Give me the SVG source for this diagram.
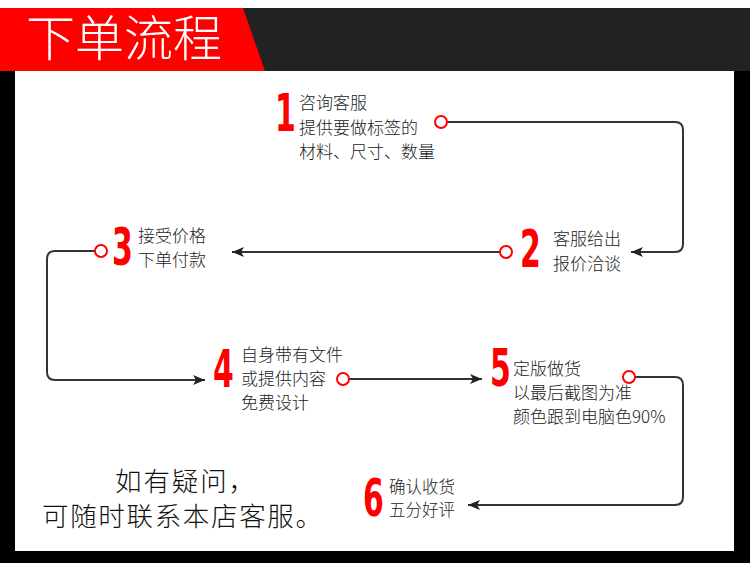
<svg xmlns="http://www.w3.org/2000/svg" width="750" height="563" viewBox="0 0 750 563">
<style>
.t{font-family:"Noto Sans CJK SC","Noto Sans",sans-serif;font-size:17px;font-weight:300;fill:#222}
.n{font-family:"Liberation Sans Narrow","DejaVu Sans Condensed","Liberation Sans",sans-serif;font-weight:bold;font-size:52px;fill:#ff0000}
.c{fill:none;stroke:#333;stroke-width:2}
.dot{fill:#fff;stroke:#ff0000;stroke-width:2}
.big{font-family:"Noto Sans CJK SC","Noto Sans",sans-serif;font-size:26.5px;font-weight:300;fill:#111}
</style>
<defs>
<marker id="arr" markerWidth="14" markerHeight="12" refX="12" refY="6" orient="auto" markerUnits="userSpaceOnUse">
<path d="M0,1 L12,6 L0,11 L3,6 Z" fill="#222"/>
</marker>
</defs>
<rect x="0" y="0" width="750" height="563" fill="#fff"/>
<rect x="0" y="71" width="15" height="492" fill="#000"/>
<rect x="734" y="71" width="16" height="492" fill="#000"/>
<rect x="0" y="551" width="750" height="12" fill="#000"/>
<g id="banner">
<rect x="0" y="8" width="750" height="63" fill="#222"/>
<polygon points="0,8 243,8 265,71 0,71" fill="#ff0000"/>
<text x="26" y="56" font-family="Noto Sans CJK SC,sans-serif" font-weight="300" font-size="49" fill="#fff" textLength="196">下单流程</text>
</g>
<g id="connectors">
<path class="c" d="M447,122 H675 Q683,122 683,130 V244 Q683,252 675,252 H631" marker-end="url(#arr)"/>
<path class="c" d="M500,252 H232" marker-end="url(#arr)"/>
<path class="c" d="M95,251 H55 Q47,251 47,259 V372 Q47,380 55,380 H205" marker-end="url(#arr)"/>
<path class="c" d="M349,379 H482" marker-end="url(#arr)"/>
<path class="c" d="M635,377 H675 Q683,377 683,385 V497 Q683,505 675,505 H468" marker-end="url(#arr)"/>
</g>
<g id="step1">
<text class="n" transform="translate(275,131) scale(0.64,1)">1</text>
<text class="t" x="299" y="109">咨询客服</text>
<text class="t" x="299" y="134">提供要做标签的</text>
<text class="t" x="299" y="158">材料、尺寸、数量</text>
<circle class="dot" cx="441" cy="122" r="6"/>
</g>
<g id="step2">
<text class="n" transform="translate(520,267) scale(0.64,1)">2</text>
<text class="t" x="553" y="245">客服给出</text>
<text class="t" x="553" y="270">报价洽谈</text>
<circle class="dot" cx="506" cy="252" r="6"/>
</g>
<g id="step3">
<text class="n" transform="translate(112,265) scale(0.64,1)">3</text>
<text class="t" x="138" y="242">接受价格</text>
<text class="t" x="138" y="266">下单付款</text>
<circle class="dot" cx="101" cy="251" r="6"/>
</g>
<g id="step4">
<text class="n" transform="translate(213,387) scale(0.64,1)">4</text>
<text class="t" x="241" y="361">自身带有文件</text>
<text class="t" x="241" y="385">或提供内容</text>
<text class="t" x="241" y="409">免费设计</text>
<circle class="dot" cx="343" cy="379" r="6"/>
</g>
<g id="step5">
<text class="n" transform="translate(490,386) scale(0.64,1)">5</text>
<text class="t" x="513" y="375">定版做货</text>
<text class="t" x="513" y="399">以最后截图为准</text>
<text class="t" x="513" y="423">颜色跟到电脑色90%</text>
<circle class="dot" cx="629" cy="377" r="6"/>
</g>
<g id="step6">
<text class="n" transform="translate(363,516) scale(0.64,1)">6</text>
<text class="t" x="389" y="493" style="font-size:16.5px">确认收货</text>
<text class="t" x="389" y="516" style="font-size:16.5px">五分好评</text>
</g>
<g id="note">
<text class="big"><tspan x="115" y="491" textLength="140" lengthAdjust="spacing">如有疑问，</tspan><tspan x="42" y="526" textLength="280" lengthAdjust="spacing">可随时联系本店客服。</tspan></text>
</g>
</svg>
